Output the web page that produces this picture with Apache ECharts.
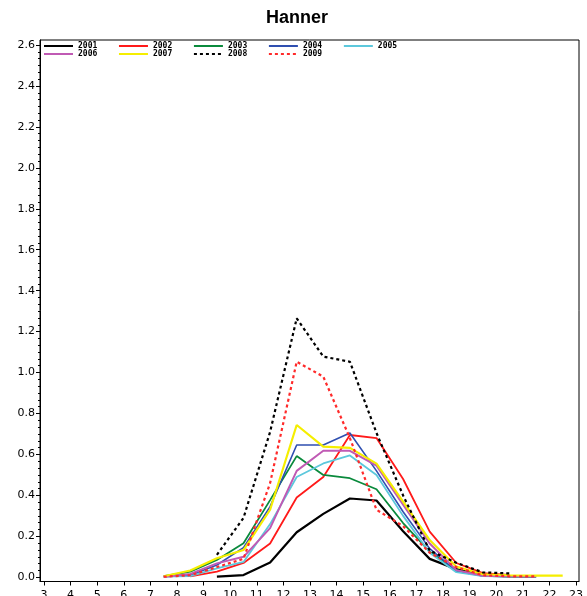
<!DOCTYPE html>
<html>
<head>
<meta charset="utf-8">
<style>html,body{margin:0;padding:0;background:#fff;}#c{width:587px;height:596px;}</style>
<script src="https://cdn.jsdelivr.net/npm/echarts@6.0.0/dist/echarts.min.js"></script>
</head>
<body>
<div id="c"></div>
<script>
const lengthClasses = [7.5, 8.5, 9.5, 10.5, 11.5, 12.5, 13.5, 14.5, 15.5, 16.5, 17.5, 18.5, 19.5, 20.5, 21.5, 22.5];
const y2001 = [null, null, 0.003, 0.011, 0.072, 0.22, 0.31, 0.385, 0.375, 0.225, 0.09, 0.04, 0.008, 0.004, 0.003, null];
const y2002 = [null, 0.004, 0.028, 0.07, 0.165, 0.39, 0.49, 0.695, 0.68, 0.48, 0.223, 0.07, 0.02, 0.012, null, null];
const y2003 = [0.006, 0.028, 0.085, 0.166, 0.377, 0.592, 0.5, 0.484, 0.43, 0.265, 0.125, 0.035, 0.008, 0.005, 0.004, null];
const y2004 = [0.003, 0.01, 0.06, 0.145, 0.345, 0.646, 0.646, 0.705, 0.52, 0.32, 0.14, 0.03, 0.007, 0.005, 0.004, null];
const y2005 = [0.003, 0.006, 0.044, 0.075, 0.26, 0.49, 0.556, 0.595, 0.5, 0.3, 0.12, 0.025, 0.006, 0.004, 0.003, null];
const y2006 = [0.003, 0.016, 0.068, 0.1, 0.24, 0.52, 0.618, 0.618, 0.545, 0.355, 0.165, 0.035, 0.008, 0.005, 0.004, null];
const y2007 = [0.005, 0.033, 0.093, 0.133, 0.33, 0.744, 0.638, 0.632, 0.555, 0.37, 0.182, 0.052, 0.015, 0.01, 0.008, 0.008];
const y2008 = [null, null, 0.11, 0.29, 0.71, 1.265, 1.078, 1.053, 0.705, 0.4, 0.13, 0.071, 0.024, 0.019, null, null];
const y2009 = [0.003, 0.01, 0.05, 0.09, 0.46, 1.053, 0.98, 0.68, 0.33, 0.25, 0.12, 0.05, 0.01, 0.005, 0.004, null];
const yearNames = ['2001', '2002', '2003', '2004', '2005', '2006', '2007', '2008', '2009'];
const xTicks = [3, 4, 5, 6, 7, 8, 9, 10, 11, 12, 13, 14, 15, 16, 17, 18, 19, 20, 21, 22, 23];
const yTicks = [0, 0.2, 0.4, 0.6, 0.8, 1.0, 1.2, 1.4, 1.6, 1.8, 2.0, 2.2, 2.4, 2.6];

const seriesValues = [y2001, y2002, y2003, y2004, y2005, y2006, y2007, y2008, y2009];
const styles = [
  {color: '#000000', width: 2.2, type: 'solid'},
  {color: '#ff1a1a', width: 1.8, type: 'solid'},
  {color: '#0a8a3c', width: 1.8, type: 'solid'},
  {color: '#2f4fb0', width: 1.6, type: 'solid'},
  {color: '#5cc8dc', width: 1.8, type: 'solid'},
  {color: '#c05ab4', width: 2, type: 'solid'},
  {color: '#f5ee00', width: 2.2, type: 'solid'},
  {color: '#000000', width: 2.2, type: [3, 3]},
  {color: '#ff2a2a', width: 2.2, type: [3, 3]}
];

const yMinor = [];
for (let i = 0; i < yTicks.length - 1; i++) {
  for (let k = 1; k < 6; k++) yMinor.push(yTicks[i] + (yTicks[i + 1] - yTicks[i]) * k / 6);
}

const series = seriesValues.map((vals, i) => ({
  name: yearNames[i],
  type: 'line',
  symbol: 'none',
  silent: true,
  connectNulls: false,
  data: lengthClasses.map((x, j) => vals[j] == null ? null : [x, vals[j]]).filter(d => d !== null),
  lineStyle: {color: styles[i].color, width: styles[i].width, type: styles[i].type},
  itemStyle: {color: styles[i].color},
  z: 2 + i
}));

const legendText = {fontSize: 8, fontFamily: 'DejaVu Sans Mono', fontWeight: 'bold', color: '#000', width: 20};
const legendBase = {left: 43, padding: 0, itemWidth: 29, itemHeight: 8, itemGap: 20.7, textStyle: legendText, selectedMode: false, itemStyle: {opacity: 0}};
const chart = echarts.init(document.getElementById('c'), null, {renderer: 'canvas'});
chart.setOption({
  animation: false,
  backgroundColor: '#fff',
  title: {
    text: 'Hanner', left: 266, top: 9, padding: 0,
    textStyle: {fontSize: 18, fontWeight: 'bold', fontFamily: 'Liberation Sans', color: '#000'}
  },
  legend: [
    Object.assign({data: yearNames.slice(0, 5), top: 42}, legendBase),
    Object.assign({data: yearNames.slice(5), top: 50}, legendBase)
  ],
  grid: {left: 40, top: 40, right: 8, bottom: 14.5, show: true, borderColor: '#000', borderWidth: 1, containLabel: false, outerBoundsMode: 'none'},
  xAxis: [{
    type: 'value', min: 2.8496, max: 23.113,
    axisLine: {show: true, onZero: false, lineStyle: {color: '#000', width: 1}},
    axisTick: {show: true, length: 4, customValues: xTicks, lineStyle: {color: '#000'}},
    axisLabel: {customValues: xTicks, margin: 8, fontSize: 11, fontFamily: 'DejaVu Sans', color: '#000'},
    splitLine: {show: false}
  }],
  yAxis: [{
    type: 'value', min: -0.0205, max: 2.6244,
    axisLine: {show: true, onZero: false, lineStyle: {color: '#000', width: 1}},
    axisTick: {show: true, length: 4, customValues: yTicks, lineStyle: {color: '#000'}},
    axisLabel: {customValues: yTicks, margin: 5, fontSize: 11, fontFamily: 'DejaVu Sans', color: '#000', formatter: v => Number(v).toFixed(1)},
    splitLine: {show: false}
  }, {
    type: 'value', min: -0.0205, max: 2.6244, position: 'left',
    axisLine: {show: false},
    axisTick: {show: true, length: 2, customValues: yMinor, lineStyle: {color: '#000'}},
    axisLabel: {show: false},
    splitLine: {show: false}
  }],
  series: series
});
</script>
</body>
</html>
